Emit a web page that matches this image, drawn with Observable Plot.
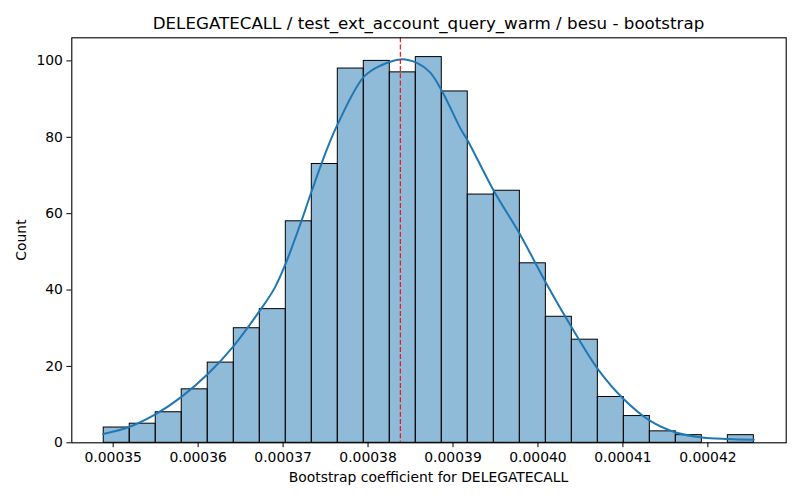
<!DOCTYPE html>
<html>
<head>
<meta charset="utf-8">
<script src="https://cdn.jsdelivr.net/npm/d3@7"></script>
<script src="https://cdn.jsdelivr.net/npm/@observablehq/plot@0.6"></script>
<style>
  html, body { margin: 0; padding: 0; background: #fff; }
  #wrap { position: relative; width: 800px; height: 500px; font-family: "DejaVu Sans", sans-serif; color: #000; }
  #wrap svg { position: absolute; left: 0; top: 0; overflow: visible; }
  .lbl { position: absolute; white-space: nowrap; line-height: 1; }
</style>
</head>
<body>
<div id="wrap">
  <div class="lbl" id="title" style="font-size:16.7px; left:428.5px; top:15.2px; transform:translateX(-50%);">DELEGATECALL / test_ext_account_query_warm / besu - bootstrap</div>
  <div class="lbl" id="xlabel" style="font-size:13.9px; left:428.5px; top:470.5px; transform:translateX(-50%);">Bootstrap coefficient for DELEGATECALL</div>
  <div class="lbl" id="ylabel" style="font-size:13.9px; left:22px; top:240px; transform:translate(-50%,-50%) rotate(-90deg);">Count</div>
</div>
<script>
// Histogram bin edges (25 bins)
const binEdges = [
  0.00034889, 0.00035195, 0.00035501, 0.00035807, 0.00036113, 0.00036420,
  0.00036726, 0.00037032, 0.00037338, 0.00037644, 0.00037950, 0.00038256,
  0.00038562, 0.00038868, 0.00039174, 0.00039481, 0.00039787, 0.00040093,
  0.00040399, 0.00040705, 0.00041011, 0.00041317, 0.00041623, 0.00041929,
  0.00042235, 0.00042541
];
// Counts per bin
const binCounts = [4, 5, 8, 14, 21, 30, 35, 58, 73, 98, 100, 97, 101, 92, 65, 66, 47, 33, 27, 12, 7, 3, 2, 0, 2];

// KDE curve (scaled to counts)
const kdeX = [
  0.00034882, 0.00035195, 0.00035501, 0.00035808, 0.00036114, 0.00036420,
  0.00036726, 0.00036900, 0.00037032, 0.00037210, 0.00037338, 0.00037510,
  0.00037644, 0.00037950, 0.00038150, 0.00038382, 0.00038580, 0.00038730,
  0.00038873, 0.00039090, 0.00039174, 0.00039480, 0.00039786, 0.00040092,
  0.00040398, 0.00040705, 0.00041011, 0.00041317, 0.00041623, 0.00041934,
  0.00042240, 0.00042541
];
const kdeY = [
  2.3, 4.2, 7.5, 12.1, 18.0, 25.4,
  34.6, 40.5, 47.0, 57.7, 66.0, 76.5,
  83.5, 95.8, 98.8, 100.4, 99.4, 97.0,
  92.0, 82.2, 79.1, 66.0, 54.7, 42.0,
  30.2, 19.3, 11.4, 5.8, 2.7, 1.4,
  1.0, 0.8
];

const meanLine = [0.0003838];

const xTicks = [0.00035, 0.00036, 0.00037, 0.00038, 0.00039, 0.00040, 0.00041, 0.00042];
const yTicks = [0, 20, 40, 60, 80, 100];

const bins = binCounts.map((c, i) => ({x1: binEdges[i], x2: binEdges[i + 1], count: c})).filter(d => d.count > 0);
const kde = kdeX.map((x, i) => ({x, y: kdeY[i]}));

const chart = Plot.plot({
  width: 800,
  height: 500,
  marginLeft: 71.3,
  marginRight: 14.3,
  marginTop: 37.3,
  marginBottom: 57.7,
  style: {fontFamily: "DejaVu Sans, sans-serif", fontSize: "13.9px", color: "#000", background: "transparent"},
  x: {domain: [0.00034513, 0.00042922]},
  y: {domain: [0, 106.05]},
  marks: [
    Plot.rect(bins, {x1: "x1", x2: "x2", y1: 0, y2: "count", fill: "#1f77b4", fillOpacity: 0.5, stroke: "#000", strokeWidth: 1}),
    Plot.line(kde, {x: "x", y: "y", stroke: "#1f77b4", strokeWidth: 2, curve: "catmull-rom"}),
    Plot.ruleX(meanLine, {stroke: "red", strokeWidth: 1.1, strokeDasharray: "5,2.2"}),
    Plot.frame({stroke: "#000", strokeWidth: 1.1}),
    Plot.axisX({ticks: xTicks, tickFormat: d3.format(".5f"), tickSize: 4.9, tickPadding: 4, label: null, fontSize: 13.9, stroke: "#000"}),
    Plot.axisY({ticks: yTicks, tickFormat: d => String(d), tickSize: 4.9, tickPadding: 4, label: null, fontSize: 13.9, stroke: "#000"})
  ]
});
document.getElementById("wrap").prepend(chart);
</script>
</body>
</html>
